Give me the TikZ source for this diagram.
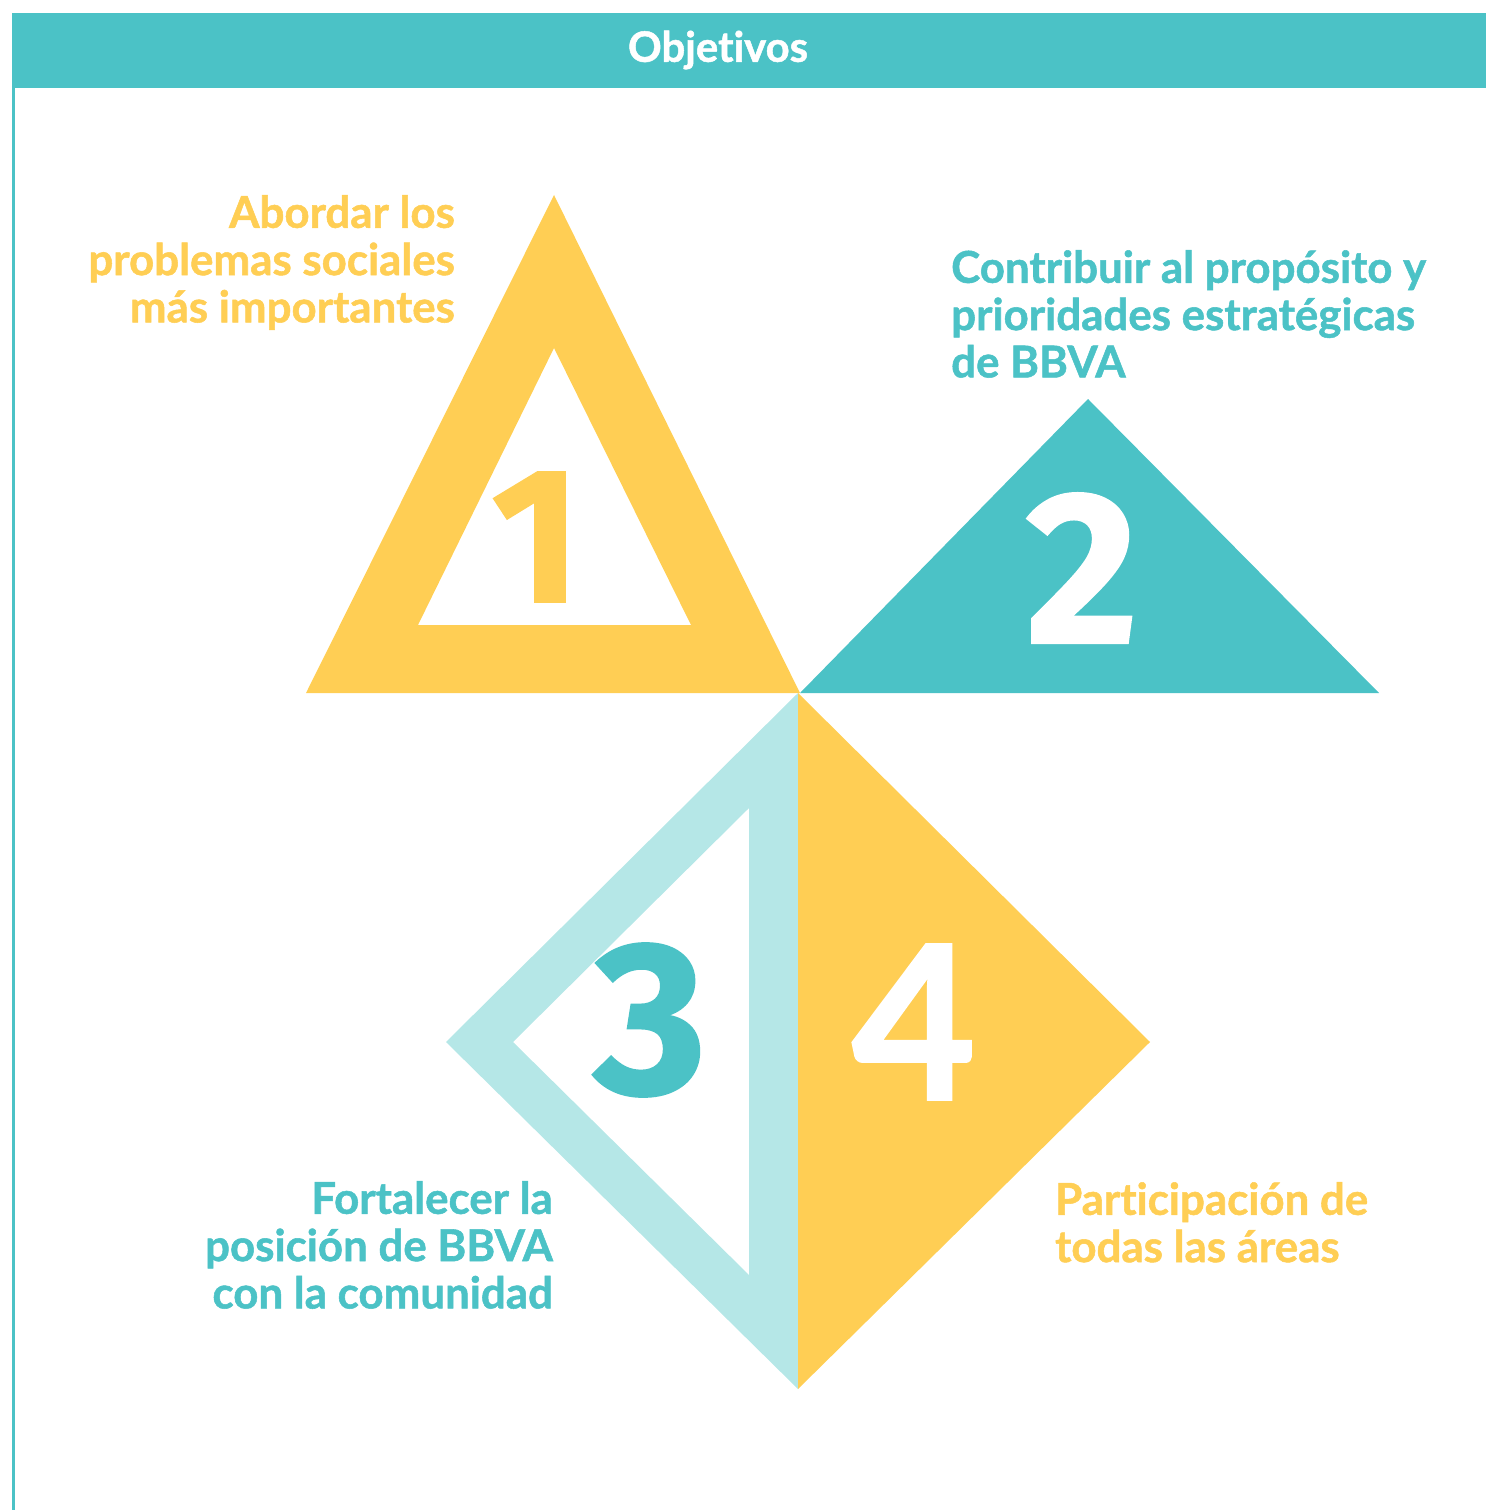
\documentclass[tikz,border=0pt]{standalone}
\usepackage{fontspec}
\setmainfont{Lato}[Ligatures=NoCommon, BoldFeatures={FakeBold=1.2}]
\newfontfamily\numfont{Fira Sans}[BoldFeatures={FakeBold=1}]
\definecolor{teal1}{HTML}{4BC2C6}
\definecolor{yel}{HTML}{FFCE54}
\definecolor{lteal}{HTML}{B5E7E7}
\begin{document}
\begin{tikzpicture}[x=1bp,y=-1bp,
  lbl/.style={inner sep=0pt, font=\bfseries\fontsize{44}{47.5}\selectfont},
  big/.style={inner sep=0pt, font=\numfont\bfseries\fontsize{#1}{#1}\selectfont},
  bigl/.style={inner sep=0pt, font=\bfseries\fontsize{#1}{#1}\selectfont}]
\useasboundingbox (0,0) rectangle (1486,1510);
% header
\fill[teal1] (12,13) rectangle (1486,88);
\node[inner sep=0pt, text=white, font=\bfseries\fontsize{42}{42}\selectfont] (title) at (718,50) {Objetivos};
\fill[teal1] (12,88) rectangle (14.5,1510);
% triangle 1
\fill[yel, even odd rule] (554,195) -- (800,693) -- (306,693) -- cycle
  (554,348) -- (691,625) -- (418,625) -- cycle;
% triangle 2
\fill[teal1] (1088,399) -- (1379,693) -- (800,693) -- cycle;
% diamond
\fill[lteal, even odd rule] (798,693) -- (798,1389) -- (446,1042) -- cycle
  (749,808) -- (749,1275) -- (513,1042) -- cycle;
\fill[yel] (798,693) -- (1150,1042) -- (798,1389) -- cycle;
% numbers
\node[big=193, text=yel] (n1) at (536,537) {1};
\node[big=218, text=white] (n2) at (1082,568) {2};
\node[big=218, text=teal1] (n3) at (650,1020) {3};
\node[bigl=215, text=white] (n4) at (914,1022) {4};
% labels
\node[lbl, text=yel, align=right, anchor=north east] (t1) at (455,195)
  {Abordar los\\problemas sociales\\más importantes};
\node[lbl, text=teal1, align=left, anchor=north west] (t2) at (951,250)
  {Contribuir al propósito y\\prioridades estratégicas\\de BBVA};
\node[lbl, text=teal1, align=right, anchor=north east] (t3) at (553,1181)
  {Fortalecer la\\posición de BBVA\\con la comunidad};
\node[lbl, text=yel, align=left, anchor=north west] (t4) at (1055,1182)
  {Participación de\\todas las áreas};
\end{tikzpicture}
\end{document}
